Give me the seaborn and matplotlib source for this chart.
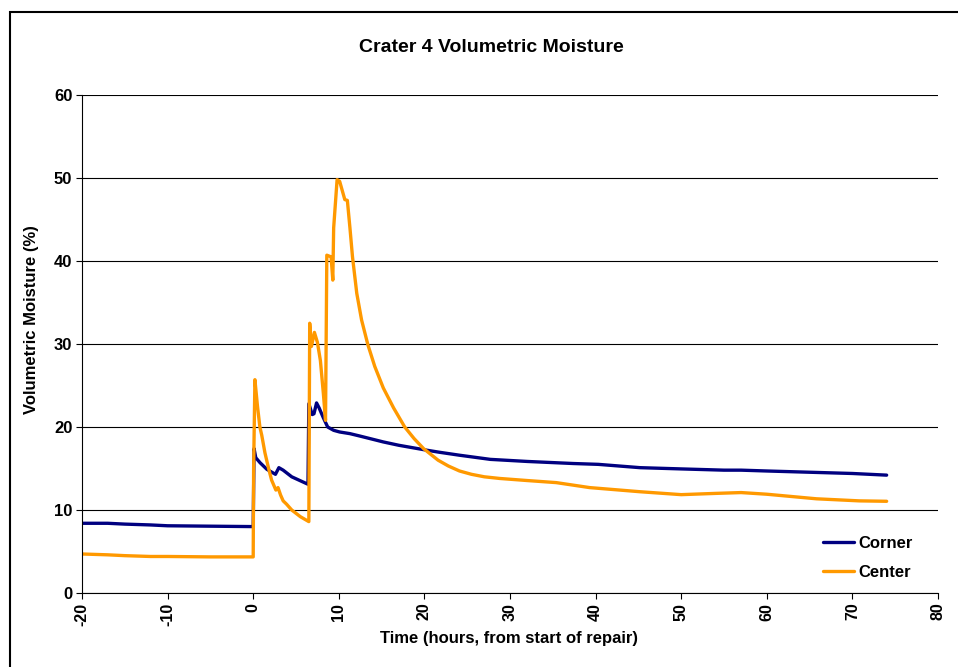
# Crater 4 - umidade volumetrica (canto x centro)
import pandas as pd
import matplotlib
matplotlib.use('Agg')
import matplotlib.pyplot as plt
import seaborn as sns
from matplotlib.patches import Rectangle

# Dados
corner_t = [-20, -17, -15, -12, -10, -5, 0, 0.1, 0.3, 0.8, 1.6, 2.6, 3.0, 3.5, 4.5, 6.4,
            6.5, 6.9, 7.1, 7.4, 7.7, 8.2, 8.7, 9.4, 10.1, 11.3, 12.5, 15.2, 17, 20.3, 21.8,
            24.1, 27.7, 32, 37.4, 40.3, 45.2, 50, 55, 57, 60, 65, 70, 74]
corner_v = [8.4, 8.4, 8.3, 8.2, 8.1, 8.05, 8.0, 17.4, 16.3, 15.7, 14.9, 14.3, 15.1, 14.8, 14.0, 13.1,
            22.8, 21.5, 21.6, 22.9, 22.3, 21.1, 20.0, 19.6, 19.4, 19.2, 18.9, 18.2, 17.8, 17.2, 16.95,
            16.6, 16.1, 15.85, 15.6, 15.5, 15.1, 14.95, 14.8, 14.8, 14.7, 14.55, 14.4, 14.2]

center_t = [-20, -17, -15, -12, -10, -5, 0, 0.05, 0.2, 0.5, 0.78, 1.0, 1.37, 1.8, 2.15, 2.65,
            2.9, 3.2, 3.5, 3.9, 4.5, 5.5, 6.5, 6.6, 6.8, 7.15, 7.5, 7.85, 8.2, 8.45, 8.6,
            9.1, 9.3, 9.4, 9.8, 10.1, 10.7, 11.0, 11.3, 11.6, 12.1, 12.66, 13.4, 14.2, 15.2, 16.4,
            17.7, 18.8, 19.9, 21.6, 22.8, 24.1, 25.5, 27, 28.8, 32, 35.4, 39.3, 45.2, 50, 54, 57, 60,
            65.8, 70.8, 74]
center_v = [4.7, 4.6, 4.5, 4.4, 4.4, 4.35, 4.35, 15.0, 25.7, 22.5, 20.0, 19.0, 16.9, 15.0, 13.6, 12.4,
            12.7, 11.8, 11.1, 10.7, 10.0, 9.2, 8.6, 32.5, 29.7, 31.4, 30.2, 28.0, 24.0, 20.8, 40.7,
            40.5, 37.7, 44.0, 49.8, 49.6, 47.4, 47.3, 44.0, 40.5, 36.1, 32.9, 29.9, 27.3, 24.7, 22.3,
            20.0, 18.6, 17.4, 16.0, 15.3, 14.7, 14.3, 14.0, 13.8, 13.55, 13.3, 12.7, 12.2, 11.85, 12.0, 12.1, 11.9,
            11.35, 11.1, 11.05]

series_names = ['Corner', 'Center']
series_colors = ['#000080', '#FF9900']
x_ticks = list(range(-20, 81, 10))
y_ticks = list(range(0, 61, 10))

df = pd.concat([
    pd.DataFrame({'t': corner_t, 'v': corner_v, 'serie': 'Corner'}),
    pd.DataFrame({'t': center_t, 'v': center_v, 'serie': 'Center'}),
], ignore_index=True)

sns.set_style('white')
plt.rcParams['font.family'] = ['Liberation Sans', 'DejaVu Sans']
plt.rcParams['font.weight'] = 'bold'
plt.rcParams['text.color'] = 'black'
plt.rcParams['xtick.color'] = 'black'
plt.rcParams['ytick.color'] = 'black'

fig = plt.figure(figsize=(9.58, 6.67), dpi=100)
W, H = 958, 667
ax = fig.add_axes([82 / W, 1 - 593 / H, (938 - 82) / W, (593 - 95) / H])

sns.lineplot(data=df, x='t', y='v', hue='serie', hue_order=series_names,
             palette=dict(zip(series_names, series_colors)), estimator=None,
             sort=False, linewidth=2.4, ax=ax)

ax.set_xlim(-20, 80)
ax.set_ylim(0, 60)
ax.set_xticks(x_ticks)
ax.set_yticks(y_ticks)
ax.set_xticklabels([str(x) for x in x_ticks], rotation=90, fontsize=11.5, fontweight='bold')
ax.set_yticklabels([str(y) for y in y_ticks], fontsize=12, fontweight='bold')
ax.tick_params(axis='both', direction='out', length=4, width=0.8, color='black',
               left=True, bottom=True, pad=3)
ax.yaxis.grid(True, color='black', linewidth=0.8)
ax.xaxis.grid(False)
for s in ['top', 'right']:
    ax.spines[s].set_visible(False)
for s in ['left', 'bottom']:
    ax.spines[s].set_color('black')
    ax.spines[s].set_linewidth(0.8)
ax.set_xlabel('')
ax.set_ylabel('')

fig.text(491 / W, 1 - 47 / H, 'Crater 4 Volumetric Moisture', ha='center', va='center',
         fontsize=14, fontweight='bold')
fig.text(509 / W, 1 - 638 / H, 'Time (hours, from start of repair)', ha='center', va='center',
         fontsize=12, fontweight='bold')
fig.text(32 / W, 1 - 320 / H, 'Volumetric Moisture (%)', ha='center', va='center',
         rotation=90, fontsize=12, fontweight='bold')

leg = ax.legend(loc='center left', bbox_to_anchor=(808 / W, 1 - 558 / H),
                bbox_transform=fig.transFigure, frameon=False, fontsize=12,
                handlelength=1.85, handletextpad=0.25, labelspacing=0.85)
for txt in leg.get_texts():
    txt.set_fontweight('bold')

# moldura em volta da figura
fig.add_artist(Rectangle((10 / W, -0.1), 1.2, 1.1 - 12 / H, transform=fig.transFigure,
                         fill=False, edgecolor='black', linewidth=1.5))

fig.savefig('out.png', dpi=100)
